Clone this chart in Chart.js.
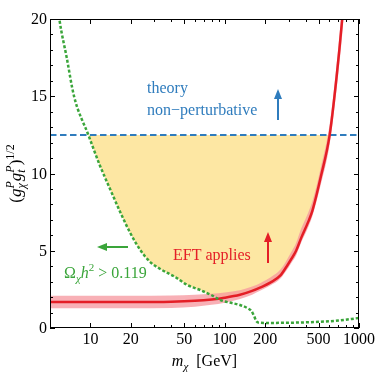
<!DOCTYPE html>
<html lang="en">
<head>
<meta charset="UTF-8">
<script src="https://cdn.jsdelivr.net/npm/chart.js"></script>
<title>EFT validity</title>
<style>
  body { margin: 0; background: #fff; }
</style>
</head>
<body>
<canvas id="c" width="376" height="374"></canvas>
<script>
// red EFT line with its band
const redMass     = [5,    10,   20,   40,   60,   80,   100,  130,  160,  185,  220,  260,  290,  310,  340,  370,  420,  450,  520,  605,  680,  750,  800];
const redCoupling = [1.68, 1.68, 1.68, 1.70, 1.76, 1.85, 1.96, 2.15, 2.40, 2.63, 2.95, 3.40, 4.00, 4.40, 5.00, 5.80, 6.90, 7.60, 9.80, 12.5, 16.2, 20.0, 23.0];
const bandHigh    = [2.08, 2.08, 2.08, 2.10, 2.15, 2.22, 2.30, 2.45, 2.68, 2.92, 3.28, 3.78, 4.40, 4.85, 5.50, 6.40, 7.50, 8.20, 10.4, 13.2, 17.0, 21.0, 24.0];
const bandLow     = [1.28, 1.28, 1.28, 1.30, 1.38, 1.50, 1.64, 1.88, 2.16, 2.42, 2.76, 3.20, 3.75, 4.15, 4.70, 5.50, 6.55, 7.25, 9.30, 11.9, 15.4, 19.0, 22.0];

// green relic abundance line
const greenMass     = [5.6,  5.87, 6.66, 7.55, 9.65, 11.8,  14.0, 16.65, 19.8, 23.5, 27.9, 33.1, 42.8, 52.7, 65.7, 80.0, 93.0, 115,  130,  150,  158,  165,  172,  178,  210,  300,  500,  700,  1000];
const greenCoupling = [21.5, 20.0, 17.5, 15.0, 12.5, 10.49, 9.0,  7.51,  6.15, 5.05, 4.27, 3.82, 3.30, 2.78, 2.46, 2.12, 1.81, 1.6,  1.49, 1.25, 1.1,  0.8,  0.45, 0.35, 0.33, 0.34, 0.40, 0.48, 0.65];

// perturbativity limit
const perturbLimit = 12.5;

const xTicks = [10, 20, 50, 100, 200, 500, 1000];
const xMinor = [30, 40, 60, 70, 80, 90, 300, 400, 600, 700, 800, 900];
const yTicks = [0, 5, 10, 15, 20];
const yMinor = [1, 2, 3, 4, 6, 7, 8, 9, 11, 12, 13, 14, 16, 17, 18, 19];

const serif = '"Liberation Serif", "DejaVu Serif", serif';

// allowed region: above green (left) and red (right), below the limit
const splitMass = 88;
const allowed = [];
greenMass.forEach((m, i) => {
    if (m < splitMass && greenCoupling[i] <= perturbLimit) allowed.push({x: m, y: greenCoupling[i]});
});
redMass.forEach((m, i) => {
    if (m >= splitMass && redCoupling[i] <= perturbLimit) allowed.push({x: m, y: redCoupling[i]});
});

const pts = (xs, ys) => xs.map((x, i) => ({x: x, y: ys[i]}));

function drawRich(ctx, parts, x, y, align) {
    const pos = [];
    let cx = 0, lastStart = 0, lastW = 0;
    for (const p of parts) {
        ctx.font = p.f;
        const w = ctx.measureText(p.t).width;
        if (p.stack) {
            pos.push(lastStart);
            cx = Math.max(lastStart + lastW, lastStart + w);
            lastW = Math.max(lastW, w);
        } else {
            pos.push(cx);
            lastStart = cx;
            lastW = w;
            cx += w;
        }
    }
    const x0 = align === 'center' ? x - cx / 2 : x;
    parts.forEach((p, i) => {
        ctx.font = p.f;
        ctx.fillText(p.t, x0 + pos[i], y + (p.dy || 0));
    });
}

function arrow(ctx, x1, y1, x2, y2, color) {
    const ang = Math.atan2(y2 - y1, x2 - x1);
    const hl = 10, hw = 4;
    ctx.strokeStyle = color;
    ctx.fillStyle = color;
    ctx.lineWidth = 2;
    ctx.beginPath();
    ctx.moveTo(x1, y1);
    ctx.lineTo(x2 - hl * 0.7 * Math.cos(ang), y2 - hl * 0.7 * Math.sin(ang));
    ctx.stroke();
    ctx.beginPath();
    ctx.moveTo(x2, y2);
    ctx.lineTo(x2 - hl * Math.cos(ang) + hw * Math.sin(ang), y2 - hl * Math.sin(ang) - hw * Math.cos(ang));
    ctx.lineTo(x2 - hl * Math.cos(ang) - hw * Math.sin(ang), y2 - hl * Math.sin(ang) + hw * Math.cos(ang));
    ctx.closePath();
    ctx.fill();
}

const framePlugin = {
    id: 'frame',
    afterDraw(chart) {
        const ctx = chart.ctx;
        const xs = chart.scales.x, ys = chart.scales.y;
        const a = chart.chartArea;
        ctx.save();

        // frame
        ctx.strokeStyle = '#000';
        ctx.lineWidth = 1;
        ctx.strokeRect(a.left + 0.5, a.top + 0.5, a.right - a.left - 1, a.bottom - a.top - 1);

        // ticks pointing inwards
        ctx.beginPath();
        const tickX = (v, len) => {
            const px = Math.round(xs.getPixelForValue(v)) + 0.5;
            ctx.moveTo(px, a.bottom); ctx.lineTo(px, a.bottom - len);
            ctx.moveTo(px, a.top); ctx.lineTo(px, a.top + len);
        };
        const tickY = (v, len) => {
            const py = Math.round(ys.getPixelForValue(v)) + 0.5;
            ctx.moveTo(a.left, py); ctx.lineTo(a.left + len, py);
            ctx.moveTo(a.right, py); ctx.lineTo(a.right - len, py);
        };
        xTicks.forEach(v => tickX(v, 5));
        xMinor.forEach(v => tickX(v, 3));
        yTicks.forEach(v => tickY(v, 5));
        yMinor.forEach(v => tickY(v, 3));
        ctx.stroke();

        // tick labels
        ctx.fillStyle = '#000';
        ctx.font = '16px ' + serif;
        ctx.textAlign = 'center';
        ctx.textBaseline = 'top';
        xTicks.forEach(v => ctx.fillText(String(v), xs.getPixelForValue(v), a.bottom + 4));
        ctx.textAlign = 'right';
        ctx.textBaseline = 'middle';
        yTicks.forEach(v => ctx.fillText(String(v), a.left - 3, ys.getPixelForValue(v) + 1));

        // axis titles
        ctx.textAlign = 'left';
        ctx.textBaseline = 'alphabetic';
        drawRich(ctx, [
            {t: 'm', f: 'italic 16px ' + serif},
            {t: '\u03c7', f: 'italic 11px ' + serif, dy: 4},
            {t: '  [GeV]', f: '16px ' + serif}
        ], (a.left + a.right) / 2, 366, 'center');

        ctx.save();
        ctx.translate(21, (a.top + a.bottom) / 2);
        ctx.rotate(-Math.PI / 2);
        drawRich(ctx, [
            {t: '(', f: '17px ' + serif},
            {t: 'g', f: 'italic 17px ' + serif},
            {t: '\u03c7', f: 'italic 12px ' + serif, dy: 4},
            {t: 'P', f: 'italic 12px ' + serif, dy: -7, stack: true},
            {t: 'g', f: 'italic 17px ' + serif},
            {t: 't', f: 'italic 12px ' + serif, dy: 4},
            {t: 'P', f: 'italic 12px ' + serif, dy: -7, stack: true},
            {t: ')', f: '17px ' + serif},
            {t: '1/2', f: '12px ' + serif, dy: -7}
        ], 0, 0, 'center');
        ctx.restore();

        // annotations
        ctx.fillStyle = '#2f7cbd';
        ctx.font = '16px ' + serif;
        ctx.fillText('theory', 147, 93);
        ctx.fillText('non\u2212perturbative', 147, 115);
        arrow(ctx, 278, 120, 278, 89, '#2f7cbd');

        ctx.fillStyle = '#e41e26';
        ctx.font = '16px ' + serif;
        ctx.fillText('EFT applies', 173, 260);
        arrow(ctx, 268, 263, 268, 232, '#e41e26');

        arrow(ctx, 128, 247, 97, 247, '#3aa53a');
        ctx.fillStyle = '#3aa53a';
        drawRich(ctx, [
            {t: '\u03a9', f: '16px ' + serif},
            {t: '\u03c7', f: 'italic 11px ' + serif, dy: 4},
            {t: 'h', f: 'italic 16px ' + serif},
            {t: '2', f: '11px ' + serif, dy: -7},
            {t: ' > 0.119', f: '16px ' + serif}
        ], 64, 278, 'left');

        ctx.restore();
    }
};

new Chart(document.getElementById('c').getContext('2d'), {
    type: 'line',
    data: {
        datasets: [
            {   // allowed region
                data: allowed,
                borderWidth: 0,
                pointRadius: 0,
                backgroundColor: '#fde7a3',
                fill: {value: perturbLimit},
                cubicInterpolationMode: 'monotone',
                order: 10
            },
            {
                data: pts(redMass, bandLow),
                borderWidth: 0,
                pointRadius: 0,
                fill: false,
                cubicInterpolationMode: 'monotone',
                order: 9
            },
            {
                data: pts(redMass, bandHigh),
                borderWidth: 0,
                pointRadius: 0,
                backgroundColor: 'rgba(245,150,158,0.75)',
                fill: '-1',
                cubicInterpolationMode: 'monotone',
                order: 8
            },
            {
                data: [{x: 5, y: perturbLimit}, {x: 1000, y: perturbLimit}],
                borderColor: '#2f7cbd',
                borderWidth: 2,
                borderDash: [6.5, 3.5],
                pointRadius: 0,
                fill: false,
                order: 7
            },
            {
                data: pts(redMass, redCoupling),
                borderColor: '#e41e26',
                borderWidth: 2.5,
                pointRadius: 0,
                fill: false,
                cubicInterpolationMode: 'monotone',
                order: 6
            },
            {
                data: pts(greenMass, greenCoupling),
                borderColor: '#3aa53a',
                borderWidth: 2.5,
                borderDash: [3, 2],
                pointRadius: 0,
                fill: false,
                cubicInterpolationMode: 'monotone',
                order: 5
            }
        ]
    },
    options: {
        responsive: false,
        animation: false,
        events: [],
        layout: {padding: {left: 50, top: 19, right: 17, bottom: 46}},
        plugins: {legend: {display: false}, tooltip: {enabled: false}},
        scales: {
            x: {type: 'logarithmic', min: 5, max: 1000, display: false},
            y: {type: 'linear', min: 0, max: 20, display: false}
        }
    },
    plugins: [framePlugin]
});
</script>
</body>
</html>
